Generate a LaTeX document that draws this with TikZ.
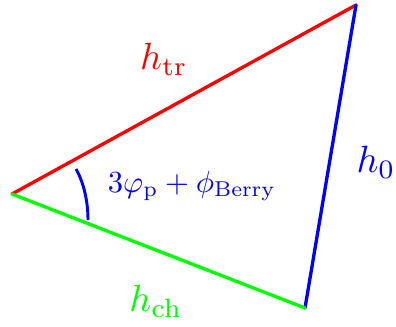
\documentclass[tikz,border=0pt]{standalone}
\usepackage{graphicx}
\usepackage{xcolor}
\usepackage{amsmath}
\usetikzlibrary{positioning}
\definecolor{trred}{RGB}{255,0,0}
\definecolor{zeroblue}{RGB}{0,0,255}
\definecolor{chgreen}{RGB}{0,255,0}
\newcommand{\sidelbl}[1]{\scalebox{2.85}{$#1$}}
\newcommand{\anglelbl}[1]{\scalebox{2.3}{$#1$}}

\begin{document}
\begin{tikzpicture}[
    x=0.75pt, y=-0.75pt,
    side/.style={line width=2.5pt, line cap=round},
    lbl/.style={inner sep=0pt}
]
\useasboundingbox (0,0) rectangle (396,326);

\coordinate (left) at (12,194);
\coordinate (top) at (356,5);
\coordinate (bot) at (305,308);
\coordinate (arcA) at (76,169);
\coordinate (arcB) at (88,220);

\draw[side, trred] (left) -- (top);
\draw[side, zeroblue] (top) -- (bot);
\draw[side, chgreen] (left) -- (bot);

\draw[line width=2.2pt, zeroblue] (arcA) .. controls (84,183) and (88,202) .. (arcB);

\node[lbl, text=trred] (htr) at (164,59) {\sidelbl{h_{\mathrm{tr}}}};
\node[lbl, text=zeroblue] (hzero) at (376,162) {\sidelbl{h_0}};
\node[lbl, text=chgreen] (hch) at (156,301) {\sidelbl{h_{\mathrm{ch}}}};
\node[lbl, text=zeroblue] (phase) at (192,186) {\anglelbl{3\varphi_{\mathrm{p}}+\phi_{\mathrm{Berry}}}};

\end{tikzpicture}
\end{document}
